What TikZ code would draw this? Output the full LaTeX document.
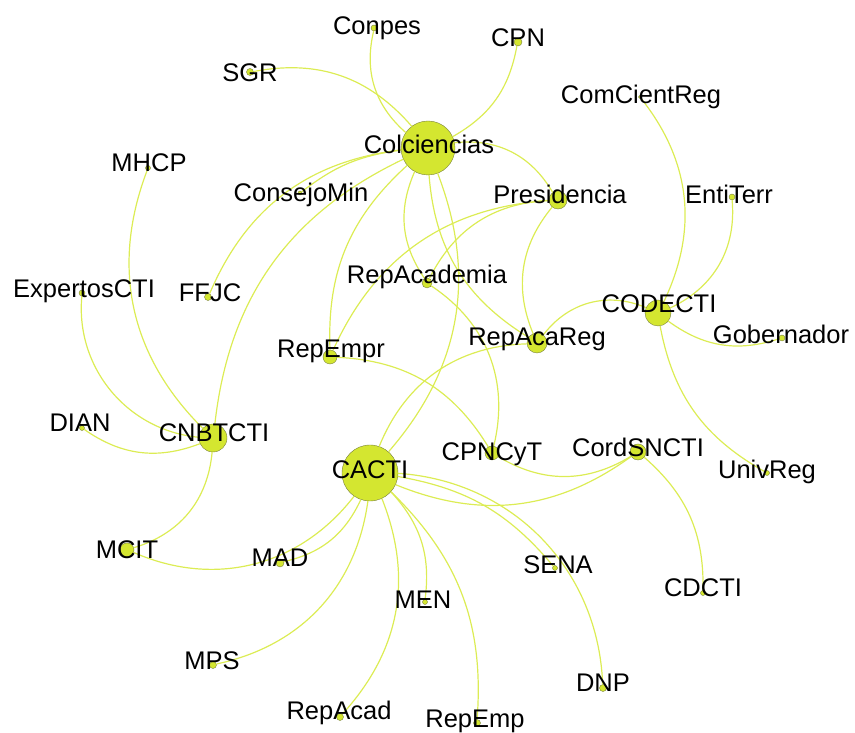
\documentclass[tikz,border=0pt]{standalone}
\usepackage{fontspec}
\setmainfont{Liberation Sans}
\usetikzlibrary{positioning}

\definecolor{nodefill}{RGB}{212,230,48}
\definecolor{edgecol}{RGB}{220,236,84}
\definecolor{nodeline}{RGB}{120,128,60}

\tikzset{
    vertex/.style={circle, fill=nodefill, draw=nodeline, line width=0.4pt, inner sep=0pt},
    link/.style={draw=edgecol, line width=1.2pt},
    tag/.style={font=\fontsize{25.5}{30}\selectfont, text height=18.3pt, text depth=0pt, inner sep=0pt, text=black}
}

\begin{document}
\begin{tikzpicture}[x=1pt, y=1pt]
    \useasboundingbox (0,0) rectangle (855,733);

    % Vertices (name/x/y/radius)
    \foreach \n/\x/\y/\r in {colc/428/585/27, conpes/374/705/3, cpn/518/691/4, sgr/250/661/3.5,
        comcient/640/636/1.5, mhcp/148/565/2.5, consejo/300/540/2, presid/558/533/9,
        entiterr/732/536/3, ffjc/208/436/3.5, repacadm/427/450/5, codecti/658/420/13,
        gober/782/395/3, expertos/82/440/3, repacareg/537/390/10, repempr/330/376/7,
        dian/82/305/2.5, cnbtcti/213/295/14, cacti/370/260/28, cpncyt/492/280/7,
        cordsncti/638/281/8, univreg/767/260/2.5, mcit/127/183/7, mad/280/170/4,
        sena/555/165/2.5, men/425/131/2.5, cdcti/703/140/2.5, mps/213/68/3.5,
        dnp/603/45/3.5, repacad/340/16/3.5, repemp/477/10/3.5} {
        \node[vertex, minimum size=\r*2pt] (\n) at (\x,\y) {};
    }

    % Curved links (positive = bend left, negative = bend right)
    \foreach \a/\b/\t in {sgr/colc/30, conpes/colc/-31, cpn/colc/25, colc/presid/33,
        colc/repacadm/-29, colc/repacareg/-27, colc/cacti/31, colc/repempr/-25,
        colc/cnbtcti/-29, colc/ffjc/-30, colc/consejo/-15,
        presid/repacareg/-31, presid/repacadm/-30, presid/repempr/-31,
        repacadm/cpncyt/35, repempr/cpncyt/28, cacti/repacareg/33, repacareg/codecti/38,
        codecti/comcient/-32, codecti/entiterr/-35, codecti/gober/-27, codecti/univreg/-25,
        cpncyt/cordsncti/-31, cacti/cordsncti/-29, cordsncti/cdcti/25,
        cacti/sena/20, cacti/dnp/42, cacti/repemp/25, cacti/men/25, cacti/repacad/32,
        cacti/mps/35, cacti/mad/26, cacti/mcit/38,
        cnbtcti/mcit/34, cnbtcti/dian/28, cnbtcti/expertos/45, cnbtcti/mhcp/33} {
        \draw[link] (\a) to[bend left=\t] (\b);
    }

    % Labels
    \foreach \n/\x/\y/\t in {colc/429/589/Colciencias, conpes/377/708/Conpes, cpn/518/696/CPN,
        sgr/250/661/SGR, comcient/641/639/ComCientReg, mhcp/149/571/MHCP,
        consejo/301/541/ConsejoMin, presid/560/539/Presidencia, entiterr/729/539/EntiTerr,
        ffjc/210/441/FFJC, repacadm/427/459/RepAcademia, codecti/659/430/CODECTI,
        gober/781/399/Gobernador, expertos/84/445/ExpertosCTI, repacareg/537/397/RepAcaReg,
        repempr/331/385/RepEmpr, dian/80/311/DIAN, cnbtcti/214/301/CNBTCTI,
        cacti/370/264/CACTI, cpncyt/492/282/CPNCyT, cordsncti/638/286/CordSNCTI,
        univreg/767/264/UnivReg, mcit/127/184/MCIT, mad/280/176/MAD, mps/212/73/MPS,
        repacad/339/23/RepAcad, men/423/134/MEN, sena/558/169/SENA, cdcti/703/146/CDCTI,
        dnp/603/51/DNP, repemp/475/15/RepEmp} {
        \node[tag] (t-\n) at (\x,\y) {\t};
    }
\end{tikzpicture}
\end{document}
